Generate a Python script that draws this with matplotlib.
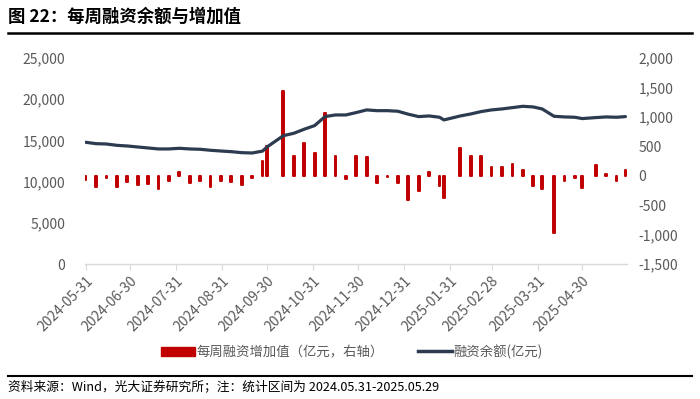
import matplotlib
matplotlib.use("Agg")
import matplotlib.pyplot as plt
import matplotlib.dates as mdates
from matplotlib.lines import Line2D
from matplotlib.patches import Patch
from matplotlib.ticker import FuncFormatter, MultipleLocator
import numpy as np
import pandas as pd

plt.rcParams['font.family'] = ['Noto Sans CJK SC', 'DejaVu Sans']

# 每周数据 (2024-05-31 ~ 2025-05-29)
dates = ['2024-05-31', '2024-06-07', '2024-06-14', '2024-06-21', '2024-06-28',
         '2024-07-05', '2024-07-12', '2024-07-19', '2024-07-26', '2024-08-02',
         '2024-08-09', '2024-08-16', '2024-08-23', '2024-08-30', '2024-09-06',
         '2024-09-13', '2024-09-20', '2024-09-27', '2024-09-30', '2024-10-11',
         '2024-10-18', '2024-10-25', '2024-11-01', '2024-11-08', '2024-11-15',
         '2024-11-22', '2024-11-29', '2024-12-06', '2024-12-13', '2024-12-20',
         '2024-12-27', '2025-01-03', '2025-01-10', '2025-01-17', '2025-01-24',
         '2025-01-27', '2025-02-07', '2025-02-14', '2025-02-21', '2025-02-28',
         '2025-03-07', '2025-03-14', '2025-03-21', '2025-03-28', '2025-04-03',
         '2025-04-11', '2025-04-18', '2025-04-25', '2025-04-30', '2025-05-09',
         '2025-05-16', '2025-05-23', '2025-05-29']

# 每周融资增加值 (亿元, 右轴)
weekly_change = [-80, -190, -40, -190, -110, -160, -135, -220, -90, 70,
                 -120, -95, -190, -85, -110, -160, -40, 250, 500, 1430,
                 330, 555, 385, 1060, 330, -50, 330, 320, -125, -30,
                 -125, -405, -255, 70, -180, -380, 470, 340, 340, 147,
                 147, 200, 105, -180, -230, -965, -95, -40, -200, 187,
                 30, -95, 105]

# 融资余额 (亿元, 左轴)
balance = [14770, 14600, 14560, 14400, 14320, 14200, 14080, 13960, 13960, 14040,
           13960, 13920, 13800, 13710, 13630, 13510, 13470, 13700, 14200, 15570,
           15860, 16350, 16790, 17880, 18080, 18080, 18370, 18690, 18600, 18600,
           18530, 18170, 17880, 17960, 17800, 17480, 17960, 18200, 18490, 18690,
           18810, 18970, 19130, 19050, 18810, 17920, 17840, 17800, 17640, 17760,
           17840, 17800, 17880]

x = pd.to_datetime(dates)
bar_color = '#C00000'
line_color = '#2D3B50'
gray = '#595959'

fig = plt.figure(figsize=(7.0, 3.99), dpi=100)
ax = fig.add_axes([0.121, 0.338, 0.775, 0.517])
ax2 = ax.twinx()

# bars on right axis, line on left axis (drawn on top)
ax2.bar(x, weekly_change, width=1.2, color=bar_color, edgecolor=bar_color,
        linewidth=1.4, joinstyle='round', zorder=2)
ax.plot(x, balance, color=line_color, linewidth=2.3, solid_capstyle='round', zorder=3)
ax.set_zorder(ax2.get_zorder() + 1)
ax.patch.set_visible(False)

ax.set_ylim(0, 25000)
ax.yaxis.set_major_locator(MultipleLocator(5000))
ax2.set_ylim(-1500, 2000)
ax2.yaxis.set_major_locator(MultipleLocator(500))
fmt = FuncFormatter(lambda v, p: f'{v:,.0f}')
ax.yaxis.set_major_formatter(fmt)
ax2.yaxis.set_major_formatter(fmt)

ax.set_xlim(x[0] - pd.Timedelta(days=0.6), x[-1] + pd.Timedelta(days=1.2))
ticks = pd.date_range('2024-05-31', '2025-04-30', freq='ME')
ax.set_xticks(ticks)
ax.xaxis.set_major_formatter(mdates.DateFormatter('%Y-%m-%d'))
for lab in ax.get_xticklabels():
    lab.set_rotation(45)
    lab.set_ha('right')
    lab.set_rotation_mode('anchor')

for a in (ax, ax2):
    for s in ('top', 'left', 'right'):
        a.spines[s].set_visible(False)
ax2.spines['bottom'].set_visible(False)
ax.spines['bottom'].set_color('#D9D9D9')
ax.spines['bottom'].set_linewidth(1.0)

ax.tick_params(axis='y', length=0, pad=14, labelsize=10, labelcolor=gray)
ax2.tick_params(axis='y', length=0, pad=8, labelsize=10, labelcolor=gray)
ax.tick_params(axis='x', length=4, color='#D9D9D9', labelsize=10, labelcolor=gray, pad=3)

# legend
handles = [Patch(facecolor=bar_color, edgecolor=bar_color),
           Line2D([], [], color=line_color, linewidth=2.5)]
labels = ['每周融资增加值（亿元，右轴）', '融资余额(亿元)']
fig.legend(handles, labels, loc='center', bbox_to_anchor=(0.503, 0.118), ncol=2,
           frameon=False, fontsize=9.6, handlelength=2.5, handleheight=0.75,
           handletextpad=0.15, columnspacing=2.6, labelcolor=gray)

# title, rules and source
fig.text(0.011, 0.958, '图 22：每周融资余额与增加值', fontsize=12.5, fontweight='bold',
         ha='left', va='center', color='black')
fig.add_artist(Line2D([0.011, 0.989], [0.917, 0.917], transform=fig.transFigure,
                      color='black', linewidth=1.8))
fig.add_artist(Line2D([0.011, 0.989], [0.058, 0.058], transform=fig.transFigure,
                      color='black', linewidth=1.5))
fig.text(0.011, 0.032, '资料来源：Wind，光大证券研究所；注：统计区间为 2024.05.31-2025.05.29',
         fontsize=9.15, ha='left', va='center', color='black')

fig.savefig('out.png', dpi=100)
